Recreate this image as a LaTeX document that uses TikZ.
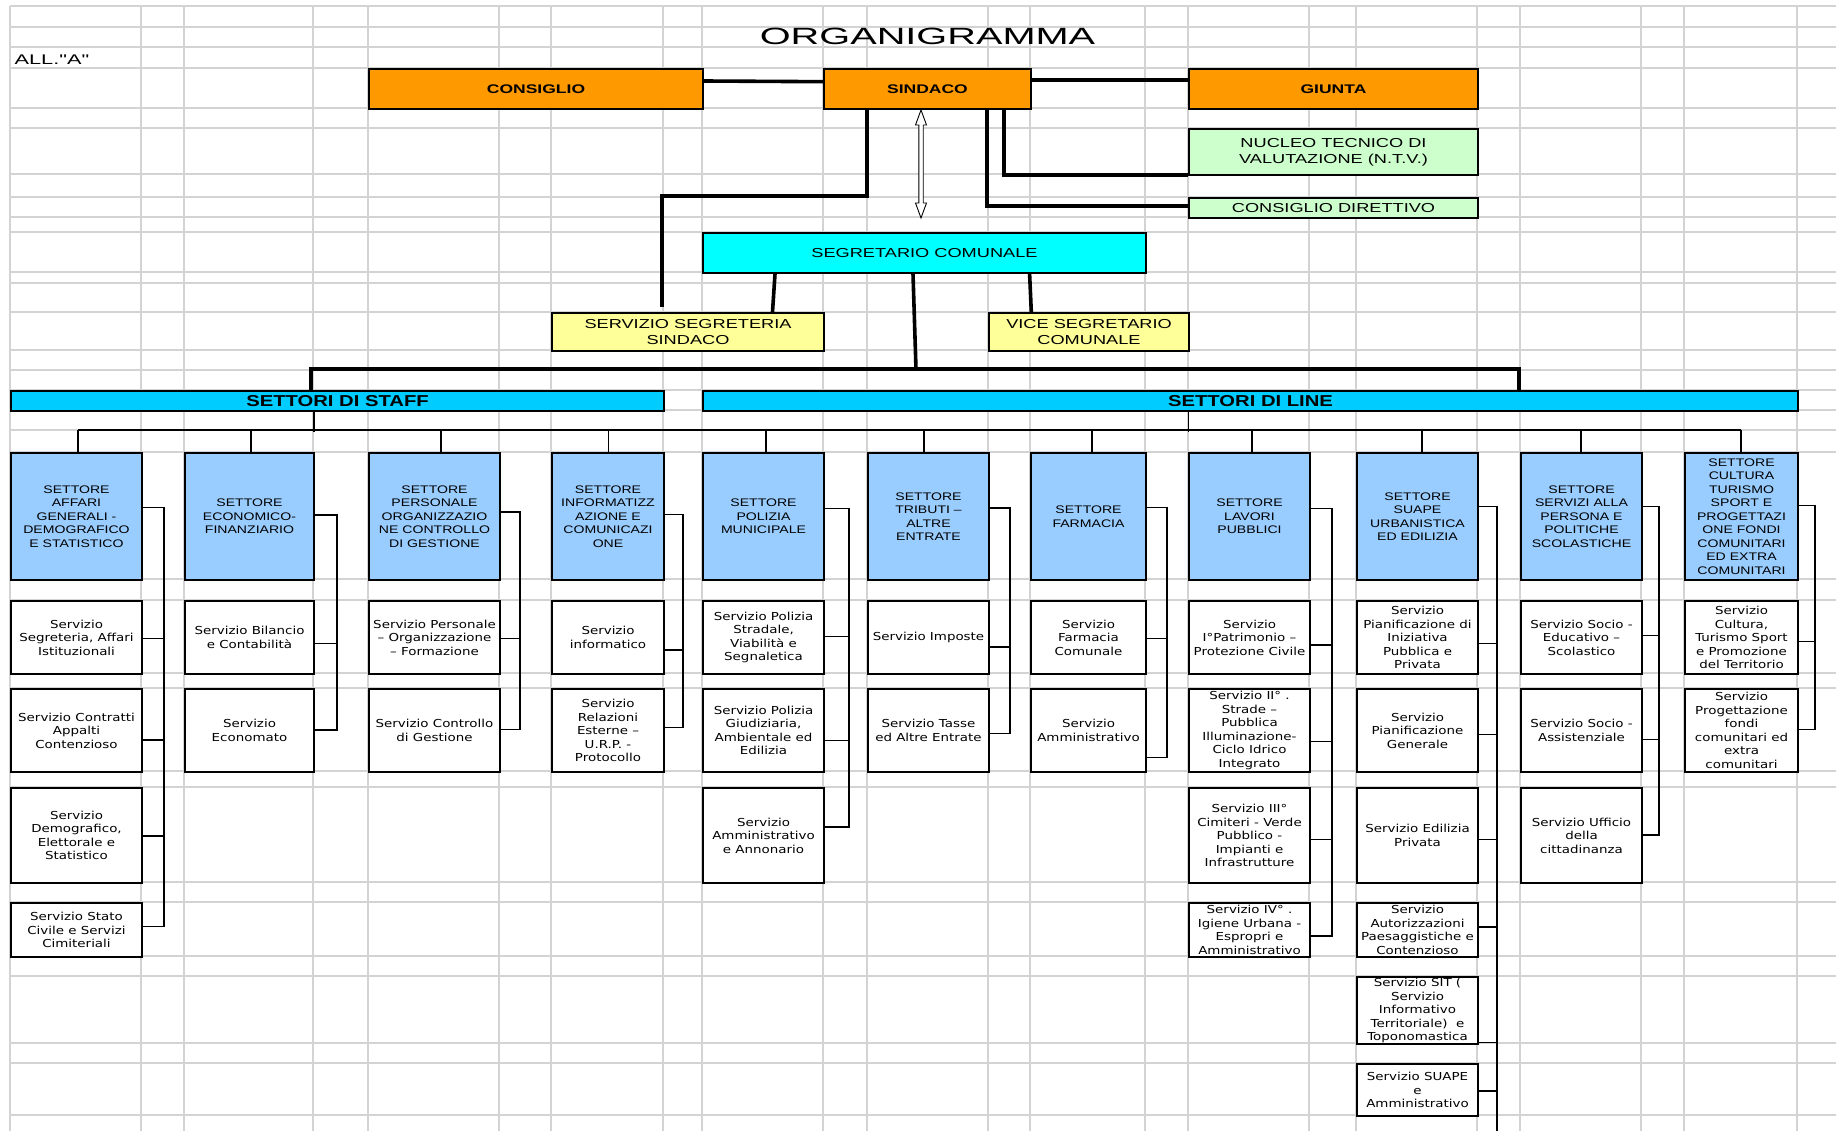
\documentclass[tikz,border=0pt]{standalone}
\usepackage{fontspec}
\setmainfont{Liberation Sans}
\newfontfamily\fsvc[FakeStretch=1.22]{DejaVu Sans}
\newfontfamily\fcap[FakeStretch=1.28]{Liberation Sans}
\newfontfamily\ftop[FakeStretch=1.4]{Liberation Sans}
\newfontfamily\fttl[FakeStretch=1.69]{Liberation Sans}
\newfontfamily\fall[FakeStretch=1.55]{Liberation Sans}
\definecolor{cOr}{HTML}{FF9900}
\definecolor{cGr}{HTML}{CCFFCC}
\definecolor{cCy}{HTML}{00FFFF}
\definecolor{cYe}{HTML}{FFFF99}
\definecolor{cBar}{HTML}{00CCFF}
\definecolor{cSec}{HTML}{99CCFF}
\definecolor{cGrid}{HTML}{D3D3D3}
\newcommand\bx[7]{%
  \pgfmathsetmacro\bw{#5-#3}%
  \pgfmathsetmacro\bh{#6-#4}%
  \node[#1, anchor=north west, minimum width=\bw pt, minimum height=\bh pt] (#2) at (#3,#4) {#7};}
\tikzset{
  box/.style={draw=black, line width=2pt, inner sep=0.5pt, align=center},
  topb/.style={box, fill=cOr, font=\ftop\bfseries\fontsize{12.5}{15}\selectfont},
  regtop/.style={box, font=\ftop\fontsize{13}{16}\selectfont},
  greenb/.style={regtop, fill=cGr},
  cyanb/.style={regtop, fill=cCy},
  yelb/.style={regtop, fill=cYe},
  barb/.style={box, fill=cBar, font=\fcap\bfseries\fontsize{15.8}{18}\selectfont},
  secb/.style={box, fill=cSec, font=\fcap\fontsize{11}{13.5}\selectfont},
  svcb/.style={box, fill=white, font=\fsvc\fontsize{11}{13.5}\selectfont},
  thk/.style={line width=3.6pt},
  thn/.style={line width=1.4pt},
  gridl/.style={draw=cGrid, line width=1.3pt}
}
\begin{document}
\begin{tikzpicture}[x=1pt,y=-1pt]
\useasboundingbox (0,0) rectangle (1836,1131);
\fill[white] (0,0) rectangle (1836,1131);
% grid
\foreach \gx in {10,141,184,313,368,499,551,663,702,823,867,988,1030,1145,1188,1309,1356,1477,1520,1641,1684,1797}
  \draw[gridl] (\gx,6) -- (\gx,1131);
\foreach \gy in {6,27,47,68,108,128,174,197,217,232,272,283,312,350,370,390,410,430,452,579,600,673,688,771,787,882,902,956,976,1043,1063,1115}
  \draw[gridl] (10,\gy) -- (1836,\gy);
% title
\node[font=\fttl\fontsize{23.5}{28}\selectfont, anchor=base, inner sep=0pt] (title) at (927.5,45) {ORGANIGRAMMA};
\node[font=\fall\fontsize{14}{16}\selectfont, anchor=base west, inner sep=0pt] (all) at (14.5,64.3) {ALL."A"};
% top
\bx{topb}{cons}{368}{68}{702}{108}{CONSIGLIO}
\bx{topb}{sind}{823}{68}{1030}{108}{SINDACO}
\bx{topb}{giun}{1188}{68}{1477}{108}{GIUNTA}
\bx{greenb}{ntv}{1188}{128}{1477}{174}{NUCLEO TECNICO DI\\VALUTAZIONE (N.T.V.)}
\bx{greenb}{cdir}{1188}{197}{1477}{217}{CONSIGLIO DIRETTIVO}
\bx{cyanb}{segr}{702}{232}{1145}{272}{SEGRETARIO COMUNALE}
\bx{yelb}{sseg}{551}{312}{823}{350}{SERVIZIO SEGRETERIA\\SINDACO}
\bx{yelb}{vice}{988}{312}{1188}{350}{VICE SEGRETARIO\\COMUNALE}
\bx{barb}{staff}{10}{390}{663}{410}{SETTORI DI STAFF}
\bx{barb}{lbar}{702}{390}{1797}{410}{SETTORI DI LINE}
% sectors
\bx{secb}{s1}{10}{452}{141}{579}{SETTORE\\AFFARI\\GENERALI -\\DEMOGRAFICO\\E STATISTICO}
\bx{secb}{s2}{184}{452}{313}{579}{SETTORE\\ECONOMICO-\\FINANZIARIO}
\bx{secb}{s3}{368}{452}{499}{579}{SETTORE\\PERSONALE\\ORGANIZZAZIO\\NE CONTROLLO\\DI GESTIONE}
\bx{secb}{s4}{551}{452}{663}{579}{SETTORE\\INFORMATIZZ\\AZIONE E\\COMUNICAZI\\ONE}
\bx{secb}{s5}{702}{452}{823}{579}{SETTORE\\POLIZIA\\MUNICIPALE}
\bx{secb}{s6}{867}{452}{988}{579}{SETTORE\\TRIBUTI –\\ALTRE\\ENTRATE}
\bx{secb}{s7}{1030}{452}{1145}{579}{SETTORE\\FARMACIA}
\bx{secb}{s8}{1188}{452}{1309}{579}{SETTORE\\LAVORI\\PUBBLICI}
\bx{secb}{s9}{1356}{452}{1477}{579}{SETTORE\\SUAPE\\URBANISTICA\\ED EDILIZIA}
\bx{secb}{s10}{1520}{452}{1641}{579}{SETTORE\\SERVIZI ALLA\\PERSONA E\\POLITICHE\\SCOLASTICHE}
\bx{secb}{s11}{1684}{452}{1797}{579}{SETTORE\\CULTURA\\TURISMO\\SPORT E\\PROGETTAZI\\ONE FONDI\\COMUNITARI\\ED EXTRA\\COMUNITARI}
% services
\bx{svcb}{a1}{10}{600}{141}{673}{Servizio\\Segreteria, Affari\\Istituzionali}
\bx{svcb}{b1}{10}{688}{141}{771}{Servizio Contratti\\Appalti\\Contenzioso}
\bx{svcb}{c1}{10}{787}{141}{882}{Servizio\\Demografico,\\Elettorale e\\Statistico}
\bx{svcb}{d1}{10}{902}{141}{956}{Servizio Stato\\Civile e Servizi\\Cimiteriali}
\bx{svcb}{a2}{184}{600}{313}{673}{Servizio Bilancio\\e Contabilità}
\bx{svcb}{b2}{184}{688}{313}{771}{Servizio\\Economato}
\bx{svcb}{a3}{368}{600}{499}{673}{Servizio Personale\\– Organizzazione\\– Formazione}
\bx{svcb}{b3}{368}{688}{499}{771}{Servizio Controllo\\di Gestione}
\bx{svcb}{a4}{551}{600}{663}{673}{Servizio\\informatico}
\bx{svcb}{b4}{551}{688}{663}{771}{Servizio\\Relazioni\\Esterne –\\U.R.P. -\\Protocollo}
\bx{svcb}{a5}{702}{600}{823}{673}{Servizio Polizia\\Stradale,\\Viabilità e\\Segnaletica}
\bx{svcb}{b5}{702}{688}{823}{771}{Servizio Polizia\\Giudiziaria,\\Ambientale ed\\Edilizia}
\bx{svcb}{c5}{702}{787}{823}{882}{Servizio\\Amministrativo\\e Annonario}
\bx{svcb}{a6}{867}{600}{988}{673}{Servizio Imposte}
\bx{svcb}{b6}{867}{688}{988}{771}{Servizio Tasse\\ed Altre Entrate}
\bx{svcb}{a7}{1030}{600}{1145}{673}{Servizio\\Farmacia\\Comunale}
\bx{svcb}{b7}{1030}{688}{1145}{771}{Servizio\\Amministrativo}
\bx{svcb}{a8}{1188}{600}{1309}{673}{Servizio\\I°Patrimonio –\\Protezione Civile}
\bx{svcb}{b8}{1188}{688}{1309}{771}{Servizio II° .\\Strade –\\Pubblica\\Illuminazione-\\Ciclo Idrico\\Integrato}
\bx{svcb}{c8}{1188}{787}{1309}{882}{Servizio III°\\Cimiteri - Verde\\Pubblico -\\Impianti e\\Infrastrutture}
\bx{svcb}{d8}{1188}{902}{1309}{956}{Servizio IV° .\\Igiene Urbana -\\Espropri e\\Amministrativo}
\bx{svcb}{a9}{1356}{600}{1477}{673}{Servizio\\Pianificazione di\\Iniziativa\\Pubblica e\\Privata}
\bx{svcb}{b9}{1356}{688}{1477}{771}{Servizio\\Pianificazione\\Generale}
\bx{svcb}{c9}{1356}{787}{1477}{882}{Servizio Edilizia\\Privata}
\bx{svcb}{d9}{1356}{902}{1477}{956}{Servizio\\Autorizzazioni\\Paesaggistiche e\\Contenzioso}
\bx{svcb}{e9}{1356}{976}{1477}{1043}{Servizio SIT (\\Servizio\\Informativo\\Territoriale)~ e\\Toponomastica}
\bx{svcb}{f9}{1356}{1063}{1477}{1115}{Servizio SUAPE\\e\\Amministrativo}
\bx{svcb}{a10}{1520}{600}{1641}{673}{Servizio Socio -\\Educativo –\\Scolastico}
\bx{svcb}{b10}{1520}{688}{1641}{771}{Servizio Socio -\\Assistenziale}
\bx{svcb}{c10}{1520}{787}{1641}{882}{Servizio Ufficio\\della\\cittadinanza}
\bx{svcb}{a11}{1684}{600}{1797}{673}{Servizio\\Cultura,\\Turismo Sport\\e Promozione\\del Territorio}
\bx{svcb}{b11}{1684}{688}{1797}{771}{Servizio\\Progettazione\\fondi\\comunitari ed\\extra\\comunitari}
% thick connectors
\draw[thk] ([yshift=8pt]cons.east) -- ([yshift=7.3pt]sind.west);
\draw[thk] ([yshift=9pt]sind.east) -- ([yshift=9pt]giun.west);
\draw[thk] ([xshift=44pt]sind.south west) |- (662,196) -- ([xshift=111pt,yshift=5pt]sseg.north west);
\draw[thk] ([xshift=181pt]sind.south west) |- ([yshift=1pt]ntv.south west);
\draw[thk] ([xshift=164pt]sind.south west) |- ([yshift=2pt]cdir.west);
\draw[thk] ([xshift=73pt]segr.south west) -- ([xshift=221.5pt]sseg.north west);
\draw[thk] ([xshift=327.6pt]segr.south west) -- ([xshift=43.3pt]vice.north west);
\draw[thk] ([xshift=211pt]segr.south west) -- (916,369.3);
\draw[thk] ([xshift=301pt]staff.north west) -- (311,369.3) -- (1519,369.3) -- ([xshift=817pt]lbar.north west);
% double arrow sindaco - segretario
\draw[line width=0.9pt, fill=white] (921,110) -- (926.5,125) -- (923.2,125) -- (923.2,203) -- (926.5,203) -- (921,218) -- (915.5,203) -- (918.8,203) -- (918.8,125) -- (915.5,125) -- cycle;
% bus
\draw[thn] ([xshift=-23.5pt]staff.south) -- ++(0,20);
\draw[thn] ([xshift=-62pt]lbar.south) -- ++(0,20);
\draw[thn] ([xshift=1.5pt,yshift=22pt]s1.north) -- ([xshift=-0.5pt,yshift=22pt]s11.north);
\foreach \n/\d in {s1/1.5,s2/1.5,s3/6.5,s4/0.5,s5/2.5,s6/-4.5,s7/3.5,s8/2.5,s9/4.5,s10/-0.5,s11/-0.5}
  \draw[thn] ([xshift=\d pt]\n.north) -- ++(0,-22);
% brackets
\draw[thn] ([yshift=8.8pt]s1.east) -- ++(21,0) -- ++(0,419) -- ([yshift=3.3pt]d1.east);
\draw[thn] ([yshift=-0.8pt]a1.east) -- ++(21,0);
\draw[thn] ([yshift=-9.5pt]b1.east) -- ++(21,0);
\draw[thn] ([yshift=-0.5pt]c1.east) -- ++(21,0);
\draw[thn] ([yshift=1.5pt]s2.east) -- ++(22,0) -- ++(0,215) -- ([yshift=0.5pt]b2.east);
\draw[thn] ([yshift=-6.2pt]a2.east) -- ++(22,0);
\draw[thn] ([yshift=4.5pt]s3.east) -- ++(19,0) -- ++(0,217.3) -- ([yshift=1.2pt]b3.east);
\draw[thn] ([yshift=-1.2pt]a3.east) -- ++(19,0);
\draw[thn] ([yshift=2.2pt]s4.east) -- ++(18,0) -- ++(0,213.4) -- ([yshift=2.8pt]b4.east);
\draw[thn] ([yshift=-12.5pt]a4.east) -- ++(18,0);
\draw[thn] ([yshift=7.8pt]s5.east) -- ++(24,0) -- ++(0,318.3) -- ([yshift=8.5pt]c5.east);
\draw[thn] ([yshift=0.8pt]a5.east) -- ++(24,0);
\draw[thn] ([yshift=-9.8pt]b5.east) -- ++(24,0);
\draw[thn] ([yshift=8.5pt]s6.east) -- ++(20,0) -- ++(0,225.3) -- ([yshift=-2.8pt]b6.east);
\draw[thn] ([yshift=-9.5pt]a6.east) -- ++(20,0);
\draw[thn] ([yshift=8.8pt]s7.east) -- ++(20,0) -- ++(0,250) -- ([yshift=-27.2pt]b7.east);
\draw[thn] ([yshift=-0.8pt]a7.east) -- ++(20,0);
\draw[thn] ([yshift=7.8pt]s8.east) -- ++(21,0) -- ++(0,427.3) -- ([yshift=-6pt]d8.east);
\draw[thn] ([yshift=-7.5pt]a8.east) -- ++(21,0);
\draw[thn] ([yshift=-11.2pt]b8.east) -- ++(21,0);
\draw[thn] ([yshift=-3.8pt]c8.east) -- ++(21,0);
\draw[thn] ([yshift=9.8pt]s9.east) -- ++(18,0) -- ++(0,626);
\draw[thn] ([yshift=-6.2pt]a9.east) -- ++(18,0);
\draw[thn] ([yshift=-3.8pt]b9.east) -- ++(18,0);
\draw[thn] ([yshift=-3.8pt]c9.east) -- ++(18,0);
\draw[thn] ([yshift=3pt]d9.east) -- ++(18,0);
\draw[thn] ([yshift=-32.2pt]e9.east) -- ++(18,0);
\draw[thn] ([yshift=-1pt]f9.east) -- ++(18,0);
\draw[thn] ([yshift=9.8pt]s10.east) -- ++(16,0) -- ++(0,328.3) -- ([yshift=0.5pt]c10.east);
\draw[thn] ([yshift=2.2pt]a10.east) -- ++(16,0);
\draw[thn] ([yshift=-8.8pt]b10.east) -- ++(16,0);
\draw[thn] ([yshift=11.2pt]s11.east) -- ++(16,0) -- ++(0,224) -- ([yshift=1.2pt]b11.east);
\draw[thn] ([yshift=-4.2pt]a11.east) -- ++(16,0);
\end{tikzpicture}
\end{document}
